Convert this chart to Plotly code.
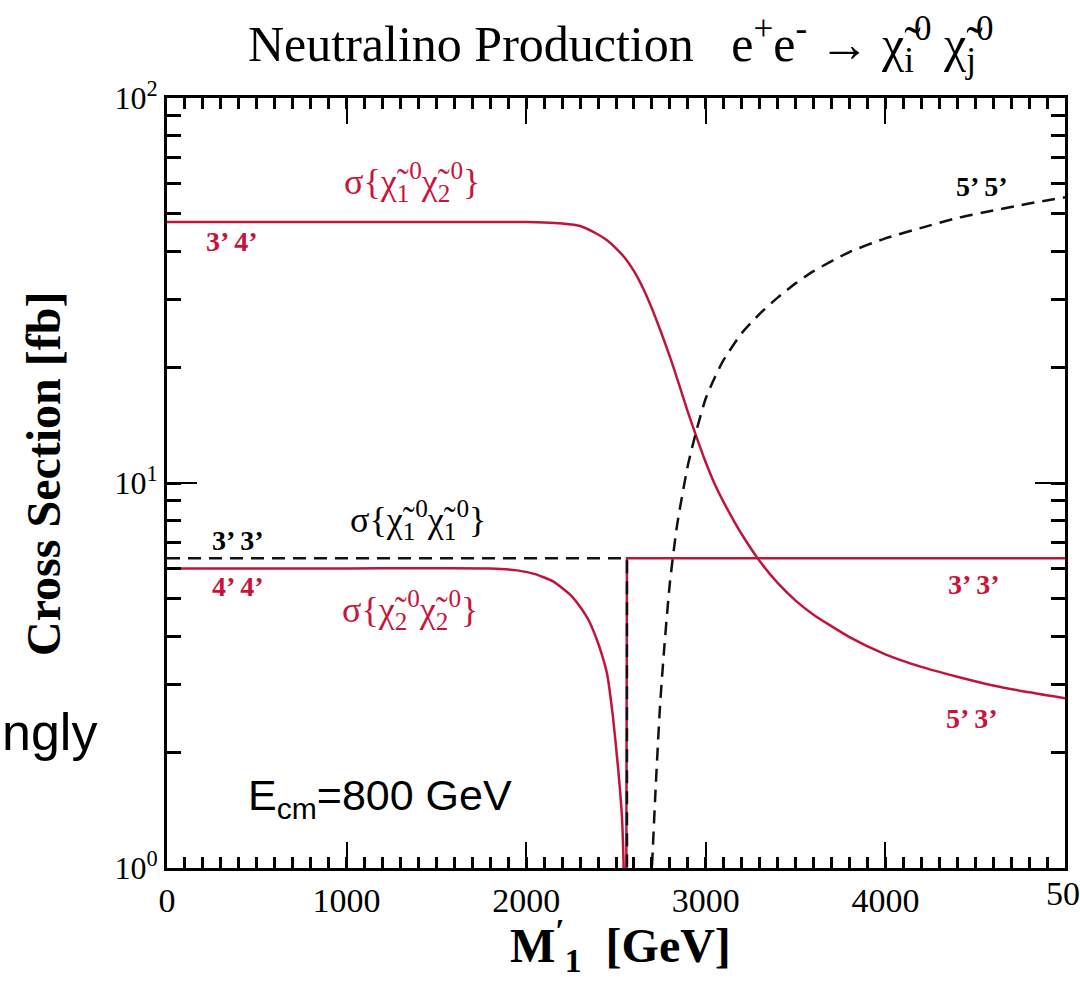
import plotly.graph_objects as go

# ---- data (cross sections in fb vs M1' in GeV) ----
# sigma(chi1 chi2): 3'4' plateau, turning into 5'3' after the level crossing
m_12 = [0, 1000, 2000, 2100, 2200, 2300, 2400, 2450, 2500, 2550, 2600, 2650, 2700,
        2750, 2800, 2850, 2900, 2950, 3000, 3050, 3100, 3150, 3200, 3300, 3400,
        3500, 3600, 3800, 4000, 4200, 4400, 4600, 4800, 5000]
s_12 = [47.6, 47.6, 47.6, 47.5, 47.2, 46.5, 44.2, 42.7, 40.7, 38.4, 35.5, 32.1, 28.4,
        24.7, 21.3, 18.1, 15.3, 13.1, 11.3, 9.93, 8.91, 8.07, 7.36, 6.27, 5.50,
        4.95, 4.55, 3.98, 3.59, 3.33, 3.14, 2.98, 2.86, 2.76]

# sigma(chi2 chi2): 4'4' plateau falling into the dip at the crossing
m_22a = [0, 1000, 1800, 1950, 2050, 2150, 2250, 2300, 2350, 2394, 2420, 2450,
         2483, 2511, 2533, 2545, 2553]
s_22a = [6.0, 6.0, 6.0, 5.93, 5.8, 5.55, 5.1, 4.77, 4.38, 3.91, 3.6, 3.2,
         2.47, 1.83, 1.36, 0.9, 0.45]
# ... and climbing back as the 3'3' plateau
m_22b = [2556, 2561, 3000, 4000, 5000]
s_22b = [0.45, 6.38, 6.38, 6.38, 6.38]

# sigma(chi1 chi1): 3'3' plateau until the crossing
m_11a = [0, 1000, 2000, 2561, 2561]
s_11a = [6.38, 6.38, 6.38, 6.38, 0.45]

# sigma(chi1 chi1) above threshold: 5'5'
m_11b = [2690, 2700, 2720, 2745, 2770, 2800, 2840, 2900, 2950, 3000, 3050, 3100,
         3200, 3300, 3400, 3500, 3600, 3800, 4000, 4200, 4400, 4600, 4800, 5000]
s_11b = [0.79, 1.0, 1.585, 2.63, 3.80, 5.50, 7.76, 11.1, 13.8, 16.6, 18.8, 20.9,
         24.5, 27.5, 30.3, 33.0, 35.5, 39.8, 43.2, 46.0, 48.8, 51.0, 53.2, 55.2]

x_ticks = [0, 1000, 2000, 3000, 4000]
x_tick_text = ["0", "1000", "2000", "3000", "4000"]
y_ticks = [1, 10, 100]
y_tick_text = ["10<sup>0</sup>", "10<sup>1</sup>", "10<sup>2</sup>"]

RED = "#c0143c"
RED_TXT = "#c8143c"
BLACK = "#111111"
SERIF = "Liberation Serif, Times New Roman, serif"
SANS = "Liberation Sans, Arial, sans-serif"

# figure geometry (pixels)
FW, FH = 1080, 981
L, R, T, B = 167, 1065, 98, 868


def px(x):
    return (x - L) / (R - L)


def py(y):
    return (B - y) / (B - T)


fig = go.Figure()
fig.add_trace(go.Scatter(x=m_12, y=s_12, mode="lines",
                         line=dict(color=RED, width=2.5, shape="spline", smoothing=0.6),
                         hoverinfo="skip"))
fig.add_trace(go.Scatter(x=m_22a, y=s_22a, mode="lines",
                         line=dict(color=RED, width=2.5, shape="spline", smoothing=0.5),
                         hoverinfo="skip"))
fig.add_trace(go.Scatter(x=m_22b, y=s_22b, mode="lines",
                         line=dict(color=RED, width=2.5), hoverinfo="skip"))
fig.add_trace(go.Scatter(x=m_11a, y=s_11a, mode="lines",
                         line=dict(color=BLACK, width=2.5, dash="13px,8px"), hoverinfo="skip"))
fig.add_trace(go.Scatter(x=m_11b, y=s_11b, mode="lines",
                         line=dict(color=BLACK, width=2.5, dash="13px,8px",
                                   shape="spline", smoothing=0.6),
                         hoverinfo="skip"))

ann = []


def label(x, y, text, size, color="black", font=SERIF, xanchor="center", **kw):
    ann.append(dict(x=px(x), y=py(y), xref="paper", yref="paper", text=text,
                    showarrow=False, xanchor=xanchor, yanchor="middle",
                    font=dict(family=font, size=size, color=color), **kw))


CHI = "\u03c7\u0303"

# title
label(620, 44, "Neutralino Production   e<sup>+</sup>e<sup>-</sup> \u2192 "
      + CHI + "<sub>i</sub><sup>0</sup> " + CHI + "<sub>j</sub><sup>0</sup>", 50)
# axis titles
label(620, 946, "<b>M<sup>\u2032</sup><sub>1</sub>  [GeV]</b>", 48)
label(43, 474, "<b>Cross Section [fb]</b>", 48, textangle=-90)
# last x tick label, running off the right edge of the page
label(1080, 893, "5000", 34)

# curve labels
label(412, 182, "\u03c3{" + CHI + "<sub>1</sub><sup>0</sup>" + CHI + "<sub>2</sub><sup>0</sup>}", 36, RED_TXT)
label(232, 242, "<b>3\u2019 4\u2019</b>", 28, RED_TXT)
label(418, 520, "\u03c3{" + CHI + "<sub>1</sub><sup>0</sup>" + CHI + "<sub>1</sub><sup>0</sup>}", 36)
label(238, 540, "<b>3\u2019 3\u2019</b>", 28)
label(238, 586, "<b>4\u2019 4\u2019</b>", 28, RED_TXT)
label(410, 610, "\u03c3{" + CHI + "<sub>2</sub><sup>0</sup>" + CHI + "<sub>2</sub><sup>0</sup>}", 36, RED_TXT)
label(982, 186, "<b>5\u2019 5\u2019</b>", 28)
label(974, 584, "<b>3\u2019 3\u2019</b>", 28, RED_TXT)
label(972, 718, "<b>5\u2019 3\u2019</b>", 28, RED_TXT)
label(380, 798, "E<sub>cm</sub>=800 GeV", 43, font=SANS)
label(0, 732, "ngly", 52, font=SANS, xanchor="left")

fig.update_layout(
    width=FW, height=FH,
    margin=dict(l=L, r=FW - R, t=T, b=FH - B),
    paper_bgcolor="white", plot_bgcolor="white",
    showlegend=False,
    annotations=ann,
    xaxis=dict(
        range=[0, 5000], tickvals=x_ticks, ticktext=x_tick_text,
        ticks="inside", ticklen=26, tickwidth=2, tickcolor="black",
        showline=True, linecolor="black", linewidth=3, mirror="allticks",
        showgrid=False, zeroline=False,
        tickfont=dict(family=SERIF, size=34, color="black"),
        minor=dict(dtick=100, ticks="inside", ticklen=11, tickwidth=3,
                   tickcolor="black", showgrid=False),
    ),
    yaxis=dict(
        type="log", range=[0, 2], tickvals=y_ticks, ticktext=y_tick_text,
        ticks="inside", ticklen=30, tickwidth=2, tickcolor="black",
        showline=True, linecolor="black", linewidth=3, mirror="allticks",
        showgrid=False, zeroline=False,
        tickfont=dict(family=SERIF, size=32, color="black"),
        minor=dict(dtick="D1", ticks="inside", ticklen=14, tickwidth=3,
                   tickcolor="black", showgrid=False),
    ),
)

fig.write_html("out.html")
